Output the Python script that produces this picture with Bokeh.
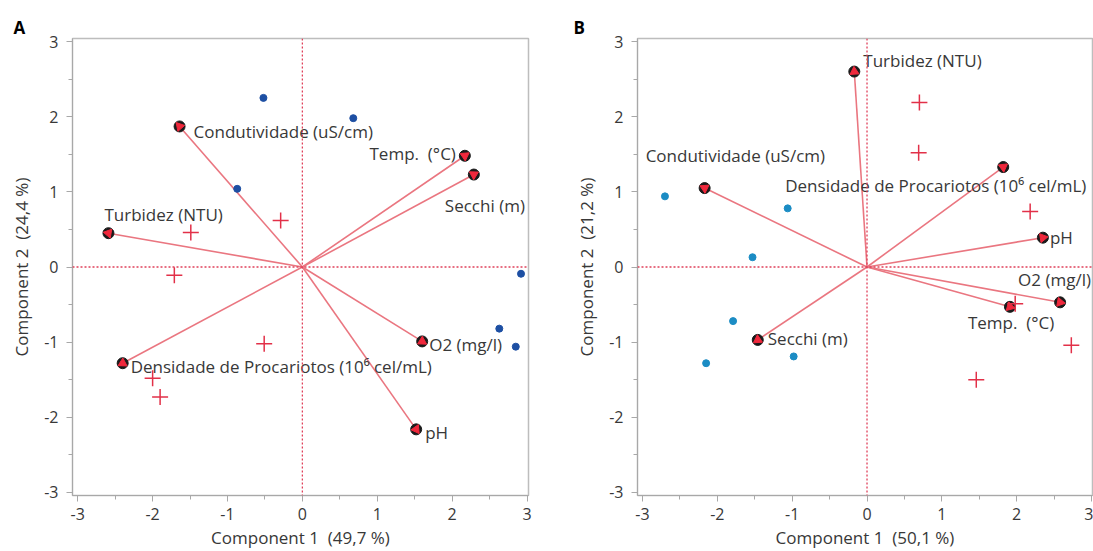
import numpy as np
from bokeh.plotting import figure
from bokeh.layouts import row
from bokeh.models import FixedTicker, Span, ColumnDataSource, Range1d, Title
from bokeh.embed import file_html
from bokeh.resources import INLINE
from bokeh.core.properties import value

# ---------------- data ----------------
# Panel A
a_vars = ["Condutividade (uS/cm)", "Turbidez (NTU)", "Temp.\u00a0\u00a0(°C)", "Secchi (m)",
          "O2 (mg/l)", "pH", "Densidade de Procariotos (10⁶ cel/mL)"]
a_vx = [-1.64, -2.59, 2.17, 2.29, 1.60, 1.52, -2.40]
a_vy = [1.87, 0.45, 1.48, 1.23, -0.99, -2.16, -1.28]
a_blue_x = [-0.52, -0.87, 0.68, 2.92, 2.63, 2.85]
a_blue_y = [2.25, 1.04, 1.98, -0.09, -0.82, -1.06]
a_cross_x = [-0.29, -1.49, -1.71, -0.51, -2.00, -1.90]
a_cross_y = [0.62, 0.46, -0.11, -1.02, -1.48, -1.73]
a_xlabel = "Component 1\u00a0\u00a0(49,7 %)"
a_ylabel = "Component 2\u00a0\u00a0(24,4 %)"

# Panel B
b_vars = ["Turbidez (NTU)", "Condutividade (uS/cm)", "Densidade de Procariotos (10⁶ cel/mL)",
          "pH", "O2 (mg/l)", "Temp.\u00a0\u00a0(°C)", "Secchi (m)"]
b_vx = [-0.17, -2.17, 1.82, 2.35, 2.58, 1.91, -1.46]
b_vy = [2.60, 1.05, 1.33, 0.39, -0.47, -0.53, -0.97]
b_blue_x = [-2.70, -1.06, -1.53, -1.79, -2.15, -0.98]
b_blue_y = [0.94, 0.78, 0.13, -0.72, -1.28, -1.19]
b_cross_x = [0.70, 0.69, 2.18, 2.73, 1.46, 1.98]
b_cross_y = [2.19, 1.52, 0.74, -1.04, -1.50, -0.49]
b_xlabel = "Component 1\u00a0\u00a0(50,1 %)"
b_ylabel = "Component 2\u00a0\u00a0(21,2 %)"

ticks = [-3, -2, -1, 0, 1, 2, 3]
minor = [-3, -2.5, -2, -1.5, -1, -0.5, 0, 0.5, 1, 1.5, 2, 2.5, 3]

# label placement (pixel offsets, style only)
a_lab_dx = [14, -4, -9, -29, 7, 9, 8]
a_lab_dy = [5, -19, -2, 31, 3, 3, 3]
a_lab_align = ["left", "left", "right", "left", "left", "left", "left"]
b_lab_dx = [9, -59, -218, 7, -42, -42, 10]
b_lab_dy = [-11, -33, 18, 0, -23, 16, -1]
b_lab_align = ["left"] * 7

FONT = "Open Sans"
TXT = "#383838"


def panel(letter, vars_, vx, vy, bx, by, bcol, cx, cy, xl, yl, dx, dy, al,
          width, bl, br, xr):
    p = figure(width=width, height=551, output_backend="svg", toolbar_location=None,
               x_range=Range1d(*xr), y_range=Range1d(-3.04, 3.04),
               min_border_left=bl, min_border_right=br, min_border_top=38,
               min_border_bottom=56)
    p.grid.visible = False
    p.outline_line_color = "#bdbdbd"
    p.outline_line_width = 1.5
    p.background_fill_color = "white"
    p.border_fill_color = "white"

    t = Title(text=letter, text_font=FONT, text_font_size="17px", text_font_style="bold",
              text_color="black", align="left", offset=-(bl - 13), standoff=0)
    p.add_layout(t, "above")

    for ax in (p.xaxis[0], p.yaxis[0]):
        ax.ticker = FixedTicker(ticks=ticks, minor_ticks=minor)
        ax.major_label_overrides = {t_: str(t_) for t_ in ticks}
        ax.axis_line_color = "#a8a8a8"
        ax.major_tick_line_color = "#a8a8a8"
        ax.minor_tick_line_color = "#a8a8a8"
        ax.major_tick_out = 6
        ax.major_tick_in = 0
        ax.minor_tick_out = 4
        ax.minor_tick_in = 0
        ax.major_label_standoff = 6
        ax.major_label_text_font = FONT
        ax.major_label_text_font_size = "16px"
        ax.major_label_text_color = TXT
        ax.axis_label_text_font = FONT
        ax.axis_label_text_font_size = "17px"
        ax.axis_label_text_font_style = "normal"
        ax.axis_label_text_color = TXT
        ax.axis_label_standoff = 3
    p.xaxis.axis_label = xl
    p.yaxis.axis_label = yl
    p.yaxis.major_label_standoff = 8
    p.yaxis.axis_label_standoff = 8
    p.yaxis.major_label_orientation = "horizontal"

    for dim in ("width", "height"):
        p.add_layout(Span(location=0, dimension=dim, line_color="#e0405a",
                          line_dash="2 2", line_width=1.3))

    vx = np.array(vx); vy = np.array(vy)
    src = ColumnDataSource(dict(x0=np.zeros_like(vx), y0=np.zeros_like(vy), x=vx, y=vy,
                                ang=np.arctan2(vy, vx) - np.pi / 2,
                                name=vars_, dx=dx, dy=dy, al=al))
    p.segment(x0="x0", y0="y0", x1="x", y1="y", source=src, line_color="#ea7680",
              line_width=1.6)
    p.scatter(x="x", y="y", source=src, marker="circle", size=11, fill_color="#1a1a1a",
              line_color="#1a1a1a")
    p.scatter(x="x", y="y", source=src, marker="triangle", angle="ang", size=9,
              fill_color="#f0283c", line_color="#f0283c")
    p.text(x="x", y="y", text="name", source=src, x_offset="dx", y_offset="dy",
           text_align="al", text_baseline="middle", text_font=value(FONT),
           text_font_size="17px", text_color=TXT)

    p.scatter(bx, by, marker="circle", size=7, fill_color=bcol, line_color=bcol)
    p.scatter(cx, cy, marker="cross", size=16, line_color="#e23048", line_width=1.5)
    return p


pa = panel("A", a_vars, a_vx, a_vy, a_blue_x, a_blue_y, "#1d4fa3", a_cross_x, a_cross_y,
           a_xlabel, a_ylabel, a_lab_dx, a_lab_dy, a_lab_align, 560, 72, 32, (-3.07, 3.02))
pb = panel("B", b_vars, b_vx, b_vy, b_blue_x, b_blue_y, "#1b8cc4", b_cross_x, b_cross_y,
           b_xlabel, b_ylabel, b_lab_dx, b_lab_dy, b_lab_align, 533, 77, 1, (-3.067, 3.013))

layout = row(pa, pb)
open("out.html", "w").write(file_html(layout, INLINE))
